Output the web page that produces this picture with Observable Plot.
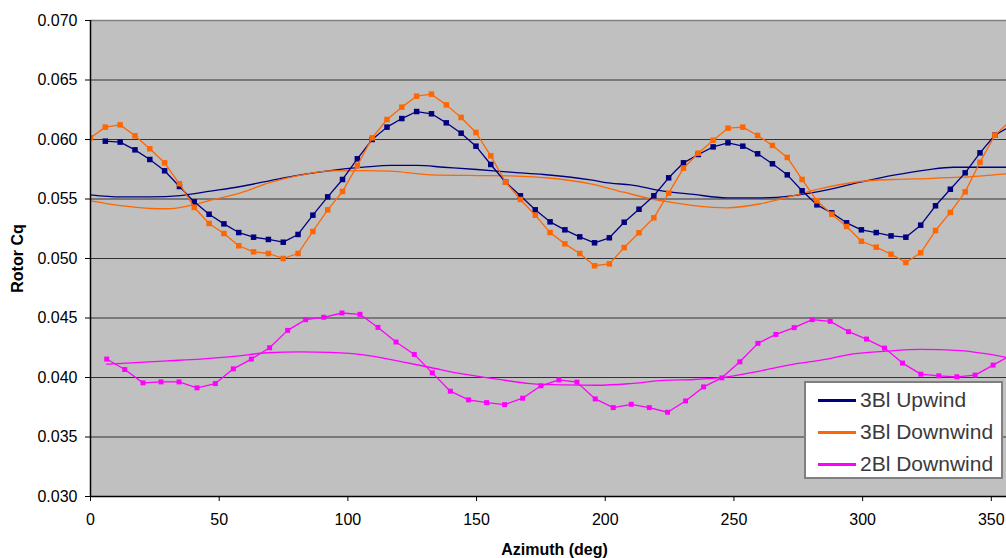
<!DOCTYPE html>
<html>
<head>
<meta charset="utf-8">
<script src="https://cdn.jsdelivr.net/npm/d3@7"></script>
<script src="https://cdn.jsdelivr.net/npm/@observablehq/plot@0.6"></script>
<style>
  body { margin: 0; background: #fff; }
  #wrap { position: relative; width: 1006px; height: 558px; overflow: hidden; font-family: "Liberation Sans", Arial, sans-serif; }
  #legend { position: absolute; left: 804px; top: 381px; width: 195px; height: 94px; background: #fff; border: 2px solid #7f7f7f; }
  .row { position: absolute; left: 0; height: 24px; display: flex; align-items: center; }
  .sw { width: 38px; height: 3px; margin-left: 12px; margin-right: 4px; }
  .lbl { font-size: 21px; color: #3a3a3a; white-space: nowrap; }
</style>
</head>
<body>
<div id="wrap"></div>
<script>
// Azimuth grid for 3-bladed series (deg)
const az3 = [0, 5.76, 11.52, 17.28, 23.04, 28.8, 34.56, 40.32, 46.08, 51.84, 57.6, 63.36, 69.12, 74.88, 80.64, 86.4, 92.16, 97.92, 103.68, 109.44, 115.2, 120.96, 126.72, 132.48, 138.24, 144, 149.76, 155.52, 161.28, 167.04, 172.8, 178.56, 184.32, 190.08, 195.84, 201.6, 207.36, 213.12, 218.88, 224.64, 230.4, 236.16, 241.92, 247.68, 253.44, 259.2, 264.96, 270.72, 276.48, 282.24, 288, 293.76, 299.52, 305.28, 311.04, 316.8, 322.56, 328.32, 334.08, 339.84, 345.6, 351.36, 357.12];
const upwind3 = [null, 0.05986, 0.05978, 0.05913, 0.05832, 0.05737, 0.05605, 0.05476, 0.05372, 0.05291, 0.05218, 0.05179, 0.05160, 0.05137, 0.05202, 0.05364, 0.05518, 0.05664, 0.05838, 0.06000, 0.06104, 0.06176, 0.06235, 0.06216, 0.06140, 0.06053, 0.05944, 0.05790, 0.05641, 0.05527, 0.05409, 0.05308, 0.05241, 0.05182, 0.05132, 0.05174, 0.05305, 0.05414, 0.05527, 0.05678, 0.05804, 0.05874, 0.05938, 0.05972, 0.05944, 0.05880, 0.05796, 0.05703, 0.05569, 0.05451, 0.05384, 0.05300, 0.05241, 0.05218, 0.05190, 0.05179, 0.05280, 0.05443, 0.05582, 0.05720, 0.05888, 0.06036, 0.06107];
const downwind3 = [0.06014, 0.06104, 0.06123, 0.06031, 0.05922, 0.05804, 0.05628, 0.05429, 0.05294, 0.05210, 0.05107, 0.05056, 0.05042, 0.05000, 0.05042, 0.05227, 0.05409, 0.05563, 0.05782, 0.06014, 0.06168, 0.06272, 0.06364, 0.06381, 0.06291, 0.06185, 0.06059, 0.05863, 0.05641, 0.05496, 0.05364, 0.05218, 0.05123, 0.05042, 0.04939, 0.04955, 0.05092, 0.05216, 0.05342, 0.05549, 0.05759, 0.05885, 0.05994, 0.06095, 0.06104, 0.06034, 0.05950, 0.05849, 0.05664, 0.05485, 0.05372, 0.05269, 0.05145, 0.05095, 0.05036, 0.04966, 0.05048, 0.05235, 0.05387, 0.05560, 0.05809, 0.06036, 0.06152];

// Azimuth grid for 2-bladed series (deg)
const az2 = [6.3, 13.3, 20.4, 27.4, 34.4, 41.4, 48.5, 55.5, 62.5, 69.6, 76.6, 83.6, 90.6, 97.7, 104.7, 111.7, 118.7, 125.8, 132.8, 139.8, 146.9, 153.9, 160.9, 167.9, 175.0, 182.0, 189.0, 196.1, 203.1, 210.1, 217.1, 224.2, 231.2, 238.2, 245.3, 252.3, 259.3, 266.3, 273.4, 280.4, 287.4, 294.5, 301.5, 308.5, 315.5, 322.6, 329.6, 336.6, 343.7, 350.7, 357.7];
const downwind2 = [0.04155, 0.04067, 0.03955, 0.03963, 0.03963, 0.03913, 0.03949, 0.04073, 0.04155, 0.04250, 0.04396, 0.04486, 0.04506, 0.04542, 0.04531, 0.04421, 0.04298, 0.04194, 0.04039, 0.03885, 0.03812, 0.03789, 0.03772, 0.03826, 0.03930, 0.03980, 0.03961, 0.03820, 0.03747, 0.03775, 0.03747, 0.03708, 0.03803, 0.03921, 0.03997, 0.04132, 0.04287, 0.04362, 0.04419, 0.04486, 0.04472, 0.04385, 0.04323, 0.04247, 0.04121, 0.04028, 0.04014, 0.04006, 0.04020, 0.04104, 0.04188];

// Smooth (unmarked) companion curves
const azSmoothUp3 = [0, 11.7, 23.3, 35, 46.6, 58.3, 69.9, 81.6, 93.2, 106.2, 116.6, 126.9, 137.3, 150.2, 163.2, 176.1, 194.3, 202, 209.8, 221.4, 234.4, 247.4, 260.3, 273.2, 286.2, 299.1, 312.1, 325, 335.4, 355.9];
const smoothUp3 = [0.05535, 0.05518, 0.05518, 0.05529, 0.05566, 0.05605, 0.05655, 0.05703, 0.05739, 0.05767, 0.05782, 0.05782, 0.05767, 0.05748, 0.05725, 0.05706, 0.05661, 0.05633, 0.05619, 0.05571, 0.05538, 0.05510, 0.05510, 0.05529, 0.05577, 0.05641, 0.05700, 0.05745, 0.05767, 0.05767];
const azSmoothDown3 = [0, 11.7, 23.3, 29.8, 37.6, 47.9, 58.3, 69.9, 81.6, 93.2, 106.2, 116.6, 132.1, 150.2, 163.2, 181.3, 194.3, 207.2, 217.6, 223.4, 234.4, 247.4, 260.3, 273.2, 286.2, 299.1, 312.1, 325, 338, 355.9];
const smoothDown3 = [0.05485, 0.05445, 0.05420, 0.05418, 0.05440, 0.05496, 0.05552, 0.05639, 0.05700, 0.05736, 0.05739, 0.05734, 0.05703, 0.05697, 0.05695, 0.05670, 0.05628, 0.05557, 0.05502, 0.05480, 0.05445, 0.05426, 0.05460, 0.05529, 0.05599, 0.05647, 0.05664, 0.05672, 0.05683, 0.05712];
const azSmoothDown2 = [6.3, 29.8, 42.7, 55.7, 68.6, 81.6, 93.2, 106.2, 119.2, 132.1, 145, 158, 170.9, 183.9, 196.9, 209.8, 222.6, 234.4, 247.4, 260.3, 273.2, 286.2, 294, 309.5, 322.5, 338, 355.9];
const smoothDown2 = [0.04112, 0.04140, 0.04155, 0.04177, 0.04208, 0.04216, 0.04211, 0.04191, 0.04140, 0.04084, 0.04028, 0.03986, 0.03949, 0.03938, 0.03935, 0.03949, 0.03975, 0.03983, 0.04006, 0.04056, 0.04112, 0.04155, 0.04191, 0.04222, 0.04236, 0.04225, 0.04169];

const xTicks = [0, 50, 100, 150, 200, 250, 300, 350];
const yTicks = [0.030, 0.035, 0.040, 0.045, 0.050, 0.055, 0.060, 0.065, 0.070];

const seriesNames = ["3Bl Upwind", "3Bl Downwind", "2Bl Downwind"];
const seriesColors = ["#000080", "#FF6600", "#FF00FF"];

const rows = (xs, ys) => xs.map((x, i) => ({x, y: ys[i]}));
const up3 = rows(az3, upwind3);
const dn3 = rows(az3, downwind3);
const dn2 = rows(az2, downwind2);
const sUp3 = rows(azSmoothUp3, smoothUp3);
const sDn3 = rows(azSmoothDown3, smoothDown3);
const sDn2 = rows(azSmoothDown2, smoothDown2);

const chart = Plot.plot({
  width: 1006,
  height: 558,
  marginLeft: 90,
  marginRight: 0,
  marginTop: 20,
  marginBottom: 62,
  x: {domain: [0, 355.9]},
  y: {domain: [yTicks[0], yTicks[yTicks.length - 1]]},
  style: {fontFamily: '"Liberation Sans", Arial, sans-serif', fontSize: "16px", color: "#000", background: "transparent", overflow: "visible"},
  marks: [
    Plot.frame({fill: "#C0C0C0", stroke: null}),
    Plot.ruleY(yTicks.slice(1, -1), {stroke: "#333", strokeWidth: 1.2}),
    Plot.ruleY(yTicks.slice(-1), {stroke: "#808080", strokeWidth: 1.5}),
    // smooth curves
    Plot.line(sUp3, {x: "x", y: "y", stroke: seriesColors[0], strokeWidth: 1.3, curve: "monotone-x", clip: true}),
    Plot.line(sDn3, {x: "x", y: "y", stroke: seriesColors[1], strokeWidth: 1.3, curve: "monotone-x", clip: true}),
    Plot.line(sDn2, {x: "x", y: "y", stroke: seriesColors[2], strokeWidth: 1.3, curve: "monotone-x", clip: true}),
    // marked series
    Plot.line(up3, {x: "x", y: "y", stroke: seriesColors[0], strokeWidth: 1.3, clip: true}),
    Plot.dot(up3, {x: "x", y: "y", symbol: "square", r: 3.1, fill: seriesColors[0], stroke: null, clip: true}),
    Plot.line(dn3, {x: "x", y: "y", stroke: seriesColors[1], strokeWidth: 1.3, clip: true}),
    Plot.dot(dn3, {x: "x", y: "y", symbol: "square", r: 3.1, fill: seriesColors[1], stroke: null, clip: true}),
    Plot.line(dn2, {x: "x", y: "y", stroke: seriesColors[2], strokeWidth: 1.3, clip: true}),
    Plot.dot(dn2, {x: "x", y: "y", symbol: "square", r: 2.8, fill: seriesColors[2], stroke: null, clip: true}),
    // axes
    Plot.ruleX(xTicks.slice(0, 1), {stroke: "#000", strokeWidth: 1.5}),
    Plot.ruleY(yTicks.slice(0, 1), {stroke: "#000", strokeWidth: 1.5}),
    Plot.axisX({ticks: xTicks, tickSize: 5, tickPadding: 12, label: null, tickFormat: d3.format("d"), fontSize: 16}),
    Plot.axisY({ticks: yTicks, tickSize: 5, tickPadding: 8, label: null, tickFormat: d3.format(".3f"), fontSize: 16}),
    Plot.text(["Azimuth (deg)"], {frameAnchor: "bottom", textAnchor: "middle", lineAnchor: "middle", dx: 6, dy: 53, fontWeight: "bold", fontSize: 16}),
    Plot.text(["Rotor Cq"], {frameAnchor: "left", textAnchor: "middle", lineAnchor: "middle", dx: -73, rotate: -90, fontWeight: "bold", fontSize: 16})
  ]
});

const wrap = document.getElementById("wrap");
wrap.appendChild(chart);

const legend = document.createElement("div");
legend.id = "legend";
seriesNames.forEach((name, i) => {
  const row = document.createElement("div");
  row.className = "row";
  row.style.top = (5 + i * 32) + "px";
  const sw = document.createElement("div");
  sw.className = "sw";
  sw.style.background = seriesColors[i];
  const lbl = document.createElement("span");
  lbl.className = "lbl";
  lbl.textContent = name;
  row.appendChild(sw);
  row.appendChild(lbl);
  legend.appendChild(row);
});
wrap.appendChild(legend);
</script>
</body>
</html>
